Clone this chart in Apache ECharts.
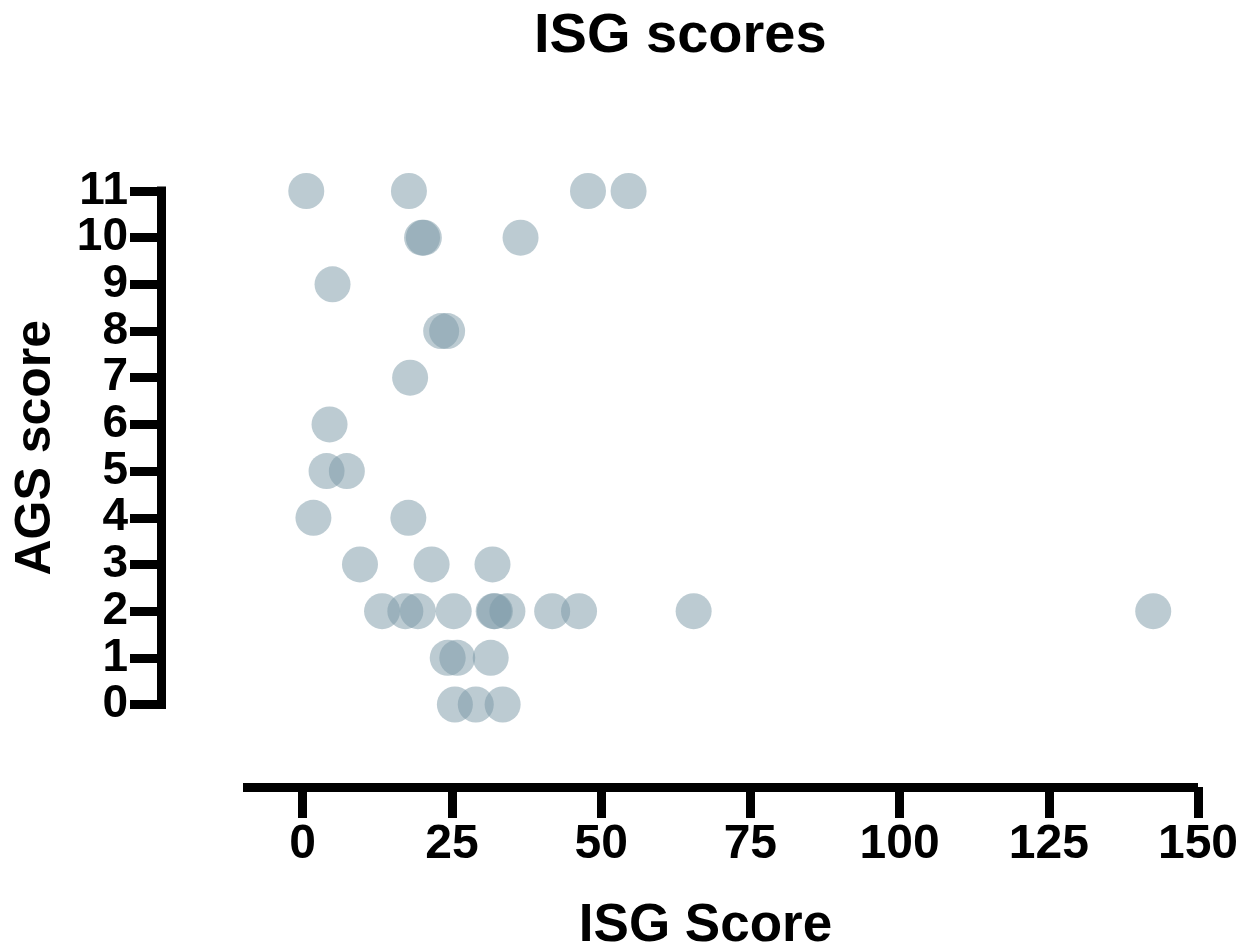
<!DOCTYPE html>
<html>
<head>
<meta charset="utf-8">
<script src="https://cdn.jsdelivr.net/npm/echarts@6/dist/echarts.min.js"></script>
<style>
    html, body { margin: 0; padding: 0; background: #ffffff; }
    #chart { width: 1252px; height: 946px; }
</style>
</head>
<body>
<div id="chart"></div>
<script>
// values, one entry per subject
const isgScores = [
    0.6, 17.8, 47.8, 54.6,
    20.0, 20.3, 36.5,
    5.0,
    23.2, 24.2,
    18.0,
    4.5,
    4.0, 7.4,
    1.8, 17.7,
    9.6, 21.6, 31.8,
    13.3, 17.2, 19.3, 25.3, 32.0, 32.2, 34.3, 41.8, 46.3, 65.5, 142.5,
    24.3, 25.9, 31.5,
    25.5, 29.0, 33.5
];
const agsScores = [
    11, 11, 11, 11,
    10, 10, 10,
    9,
    8, 8,
    7,
    6,
    5, 5,
    4, 4,
    3, 3, 3,
    2, 2, 2, 2, 2, 2, 2, 2, 2, 2, 2,
    1, 1, 1,
    0, 0, 0
];
const xTicks = [0, 25, 50, 75, 100, 125, 150];

const fontFamily = '"Liberation Sans", Arial, Helvetica, sans-serif';

const chart = echarts.init(document.getElementById('chart'));

const points = isgScores.map((x, i) => [x, agsScores[i]]);

chart.setOption({
    animation: false,
    backgroundColor: '#ffffff',
    title: {
        text: 'ISG scores',
        left: 529,
        top: 4,
        textStyle: {
            fontFamily: fontFamily,
            fontWeight: 'bold',
            fontSize: 56,
            color: '#000000'
        }
    },
    grid: {
        left: 243,
        right: 54,
        top: 191,
        bottom: 241.5,
        containLabel: false,
        outerBoundsMode: 'none'
    },
    xAxis: {
        type: 'value',
        min: -10,
        max: 150,
        offset: 82.5,
        splitLine: { show: false },
        axisLine: {
            show: true,
            onZero: false,
            lineStyle: { color: '#000000', width: 9, cap: 'butt' }
        },
        axisTick: {
            show: true,
            customValues: xTicks,
            length: 31,
            lineStyle: { color: '#000000', width: 9 }
        },
        axisLabel: {
            customValues: xTicks,
            margin: 34,
            fontFamily: fontFamily,
            fontWeight: 'bold',
            fontSize: 48,
            color: '#000000'
        },
        name: 'ISG Score',
        nameLocation: 'middle',
        nameGap: 113,
        nameTextStyle: {
            fontFamily: fontFamily,
            fontWeight: 'bold',
            fontSize: 53,
            color: '#000000',
            padding: [0, 30, 0, 0]
        }
    },
    yAxis: {
        type: 'value',
        min: 0,
        max: 11,
        interval: 1,
        offset: 82,
        splitLine: { show: false },
        axisLine: {
            show: true,
            onZero: false,
            lineStyle: { color: '#000000', width: 9, cap: 'square' }
        },
        axisTick: {
            show: true,
            length: 31,
            lineStyle: { color: '#000000', width: 9 }
        },
        axisLabel: {
            margin: 33,
            showMinLabel: true,
            showMaxLabel: true,
            hideOverlap: false,
            lineHeight: 38,
            fontFamily: fontFamily,
            fontWeight: 'bold',
            fontSize: 46,
            color: '#000000'
        },
        name: 'AGS score',
        nameLocation: 'middle',
        nameGap: 100,
        nameRotate: 90,
        nameTextStyle: {
            fontFamily: fontFamily,
            fontWeight: 'bold',
            fontSize: 50,
            color: '#000000'
        }
    },
    series: [
        {
            type: 'scatter',
            data: points,
            symbol: 'circle',
            symbolSize: 36,
            itemStyle: {
                color: 'rgb(121,151,165)',
                opacity: 0.5
            }
        }
    ]
});
</script>
</body>
</html>
